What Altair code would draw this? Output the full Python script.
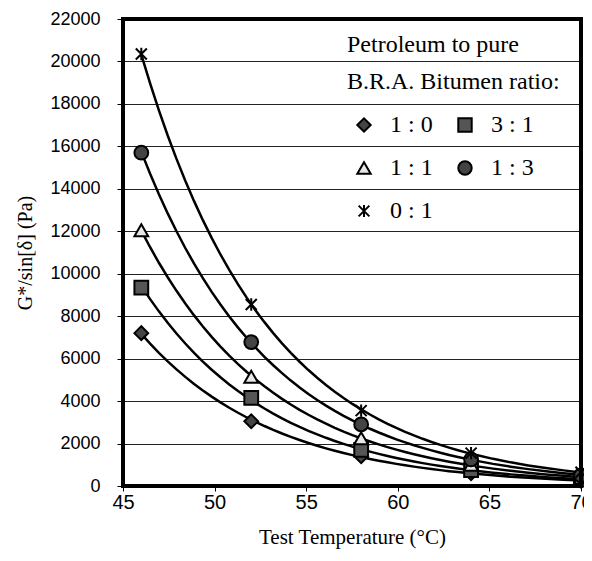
import altair as alt
import pandas as pd

temps = [46, 52, 58, 64, 70]
series = ["1 : 0", "3 : 1", "1 : 1", "1 : 3", "0 : 1"]
r10 = [7200, 3050, 1400, 600, 250]
r31 = [9350, 4150, 1700, 750, 300]
r11 = [12050, 5150, 2250, 1000, 400]
r13 = [15700, 6780, 2900, 1250, 500]
r01 = [20350, 8550, 3550, 1550, 650]

rows = []
for name, vals in zip(series, [r10, r31, r11, r13, r01]):
    for t, v in zip(temps, vals):
        rows.append({"temp": t, "g": v, "ratio": name})
df = pd.DataFrame(rows)

serif = "Liberation Serif"
sans = "Liberation Sans"

x_path = "M-0.8,-0.8L0.8,0.8M-0.8,0.8L0.8,-0.8M0,-0.9L0,0.9"

# legend is laid out column-major: order so rows read 1:0 3:1 / 1:1 1:3 / 0:1
legend_order = ["1 : 0", "1 : 1", "0 : 1", "3 : 1", "1 : 3"]
shape_map = {"1 : 0": "diamond", "3 : 1": "square", "1 : 1": "triangle-up",
             "1 : 3": "circle", "0 : 1": x_path}
fill_map = {"1 : 0": "#444", "3 : 1": "#555", "1 : 1": "#e8e8e8",
            "1 : 3": "#444", "0 : 1": "#444"}

x_enc = alt.X("temp:Q", scale=alt.Scale(domain=[45, 70], nice=False, zero=False),
              axis=alt.Axis(values=[45, 50, 55, 60, 65, 70], title="Test Temperature (°C)",
                            grid=False, tickSize=5, labelPadding=1, titlePadding=14,
                            labelFlush=False, labelFont=sans, labelFontSize=20,
                            titleFont=serif, titleFontSize=21, titleFontWeight="normal",
                            format="d"))
y_enc = alt.Y("g:Q", scale=alt.Scale(domain=[0, 22000], nice=False),
              axis=alt.Axis(values=list(range(0, 22001, 2000)), title="G*/sin[δ] (Pa)",
                            grid=True, gridColor="#222", gridWidth=1, tickSize=6,
                            labelPadding=17, titlePadding=14, labelFlush=False,
                            labelFont=sans, labelFontSize=18, titleFont=serif,
                            titleFontSize=20, titleFontWeight="normal", format="d"))

lines = alt.Chart(df).transform_regression(
    "temp", "g", groupby=["ratio"], method="exp", extent=[46, 70]
).mark_line(color="black", strokeWidth=2.5, clip=True).encode(
    x=x_enc, y=y_enc, detail="ratio:N"
)

legend = alt.Legend(
    title=["Petroleum to pure", "B.R.A. Bitumen ratio:"],
    orient="none", legendX=224, legendY=14, columns=2,
    titleFont=serif, titleFontSize=24, titleFontWeight="normal", titleLimit=400,
    titleAnchor="start", titleAlign="left", titleLineHeight=37, titlePadding=19,
    labelFont=serif, labelFontSize=24, labelOffset=14, symbolOffset=5,
    rowPadding=19, columnPadding=15, symbolSize=180,
    symbolStrokeWidth=2, padding=0,
)

points = alt.Chart(df).mark_point(filled=True, strokeWidth=2,
                                  size=190, opacity=1).encode(
    x=x_enc, y=y_enc,
    shape=alt.Shape("ratio:N", scale=alt.Scale(domain=legend_order,
                    range=[shape_map[s] for s in legend_order]),
                    legend=legend),
    fill=alt.Fill("ratio:N", scale=alt.Scale(domain=legend_order,
                  range=[fill_map[s] for s in legend_order]),
                  legend=legend),
    stroke=alt.Stroke("ratio:N", scale=alt.Scale(domain=legend_order,
                      range=["black"] * 5), legend=legend),
)

frame = alt.Chart(df).mark_rect(fill=None, stroke="black", strokeWidth=3).encode(
    x=alt.value(0), x2=alt.value("width"), y=alt.value(0), y2=alt.value("height")
)

chart = alt.layer(lines, points, frame).properties(
    width=458, height=467,
    autosize=alt.AutoSizeParams(type="none"),
    padding={"left": 115, "top": 11, "right": 3, "bottom": 67},
).configure_view(stroke="black", strokeWidth=3).configure_axis(
    domainColor="black", domainWidth=3, tickColor="black", labelColor="black",
    titleColor="black"
)

chart.save("out.html", embed_options={"renderer": "svg", "actions": False})
